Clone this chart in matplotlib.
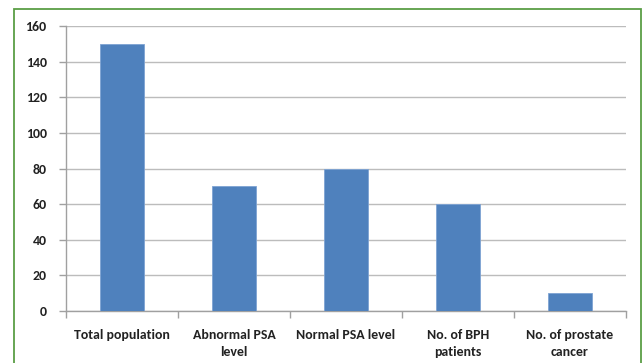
import matplotlib
matplotlib.use("Agg")
import matplotlib.pyplot as plt
from matplotlib.patches import Rectangle
import numpy as np

categories = ["Total population", "Abnormal PSA\nlevel", "Normal PSA level",
              "No. of BPH\npatients", "No. of prostate\ncancer"]
values = [150, 70, 80, 60, 10]
yticks = [0, 20, 40, 60, 80, 100, 120, 140, 160]

plt.rcParams['font.family'] = ['Carlito', 'Lato', 'DejaVu Sans']

fig = plt.figure(figsize=(6.43, 3.63), dpi=100)
fig.patch.set_facecolor('white')
fig.patches.append(Rectangle((14/643, -0.05), 627/643, 1.05 - 9/363,
                             transform=fig.transFigure, fill=False,
                             edgecolor='#5a9e45', linewidth=1.3))

ax = fig.add_axes([66/643, 1 - 311/363, (626 - 66)/643, (311 - 26)/363])
x = np.arange(len(categories))
ax.bar(x, values, width=0.39, color='#4f81bd', edgecolor='#7ea3d3',
       linewidth=0.6, zorder=3)

ax.set_xlim(-0.5, len(categories) - 0.5)
ax.set_ylim(0, 160)
ax.set_yticks(yticks)
ax.set_yticklabels([str(t) for t in yticks], fontsize=10, fontweight='bold',
                   color='#222222')
ax.yaxis.grid(True, color='#bcbcbc', linewidth=1.0, zorder=0)
ax.set_axisbelow(True)

ax.set_xticks(x)
ax.set_xticklabels(categories, fontsize=10, fontweight='bold',
                   color='#222222', linespacing=1.5)
ax.tick_params(axis='x', which='major', length=0, pad=13)
ax.set_xticks(np.arange(-0.5, len(categories)), minor=True)
ax.tick_params(axis='x', which='minor', length=5, color='#a0a0a0', width=1)
ax.tick_params(axis='y', length=5, color='#a0a0a0', width=1, pad=9)

for s in ['top', 'right']:
    ax.spines[s].set_visible(False)
for s in ['left', 'bottom']:
    ax.spines[s].set_color('#a0a0a0')
    ax.spines[s].set_linewidth(1.0)

fig.savefig("out.png", dpi=100)
